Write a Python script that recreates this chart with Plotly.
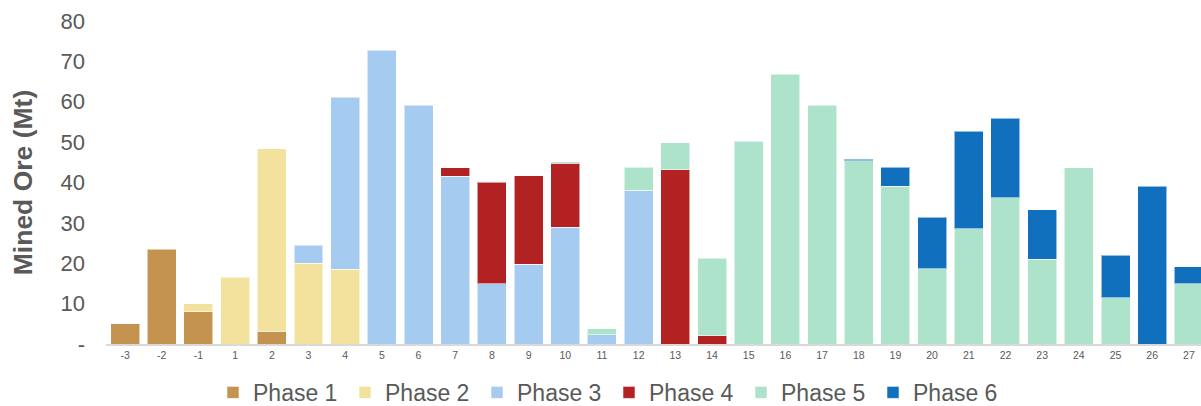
import plotly.graph_objects as go

# Mining periods (years relative to start of operations)
periods = ["-3", "-2", "-1"] + [str(i) for i in range(1, 28)]

# Mined ore per phase, Mt (None = nothing mined in that period)
phase1 = [5.0, 23.5, 8.0, None, 3.2] + [None] * 25
phase2 = [None, None, 2.0, 16.5, 45.1, 20.0, 18.5] + [None] * 23
phase3 = [None, None, None, None, None, 4.5, 42.6, 72.8, 59.1, 41.6, 14.9, 19.7,
          28.9, 2.3, 38.1] + [None] * 15
phase4 = [None] * 9 + [2.0, 25.2, 22.0, 15.9, None, None, 43.2, 2.0] + [None] * 13
phase5 = [None] * 12 + [0.4, 1.5, 5.7, 6.7, 19.3, 50.2, 66.8, 59.1, 45.4, 39.1,
                        18.7, 28.6, 36.2, 21.0, 43.6, 11.5, None, 14.9]
phase6 = [None] * 20 + [0.4, 4.7, 12.7, 24.1, 19.7, 12.3, None, 10.5, 39.1, 4.2]

series = [
    ("Phase 1", phase1, "#C4934F"),
    ("Phase 2", phase2, "#F2E29D"),
    ("Phase 3", phase3, "#A6CBF0"),
    ("Phase 4", phase4, "#B22222"),
    ("Phase 5", phase5, "#ADE3CA"),
    ("Phase 6", phase6, "#1170BD"),
]

y_ticks = [0, 10, 20, 30, 40, 50, 60, 70, 80]
y_ticktext = ["-", "10", "20", "30", "40", "50", "60", "70", "80"]

FONT = "Liberation Sans, Arial, sans-serif"
GREY = "#595959"

fig = go.Figure()
for name, values, color in series:
    fig.add_trace(go.Bar(
        x=periods, y=values, name=name,
        marker=dict(color=color, line=dict(color="rgba(255,255,255,0.55)", width=1)),
    ))

fig.update_layout(
    barmode="stack",
    bargap=0.21,
    width=1201, height=406,
    margin=dict(l=106, r=0, t=21, b=62, autoexpand=False),
    plot_bgcolor="white", paper_bgcolor="white",
    font=dict(family=FONT, color=GREY),
    showlegend=True,
    legend=dict(
        orientation="h",
        x=(213 - 106) / 1095, xanchor="left",
        y=-0.15, yanchor="middle",
        font=dict(size=23, color=GREY, family=FONT),
        entrywidth=87, entrywidthmode="pixels",
        itemwidth=30,
        traceorder="normal",
    ),
    xaxis=dict(
        type="category",
        range=[-0.52, 29.33],
        showline=True, linecolor="#D9D9D9", linewidth=2,
        showgrid=False, ticks="",
        tickfont=dict(size=10.5, color=GREY),
        fixedrange=True,
    ),
    yaxis=dict(
        range=[0, 80],
        tickvals=y_ticks, ticktext=y_ticktext,
        showgrid=False, zeroline=False, showline=False, ticks="",
        tickfont=dict(size=22, color=GREY),
        ticklabelstandoff=20,
        title=dict(text="<b>Mined Ore (Mt)</b>", font=dict(size=26.5, color=GREY), standoff=20),
    ),
)

fig.write_html("out.html")
